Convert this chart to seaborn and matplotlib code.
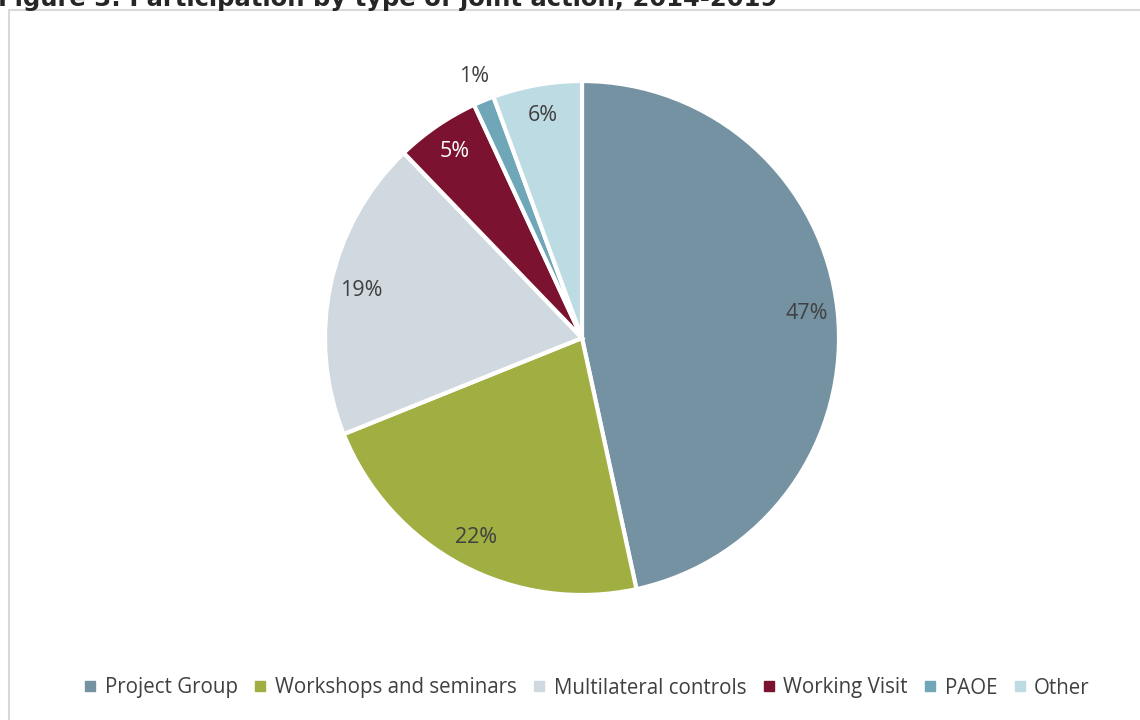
import matplotlib
matplotlib.use("Agg")
import matplotlib.pyplot as plt
import seaborn as sns
import numpy as np
from matplotlib.lines import Line2D
from matplotlib.patches import Rectangle

sns.set_theme(style="white")
plt.rcParams['font.family'] = ['Open Sans', 'DejaVu Sans']

categories = ["Project Group", "Workshops and seminars", "Multilateral controls",
              "Working Visit", "PAOE", "Other"]
values = [46.6, 22.3, 18.9, 5.3, 1.3, 5.6]
labels = ["47%", "22%", "19%", "5%", "1%", "6%"]
colors = sns.color_palette(["#7592a3", "#a0ae42", "#d0d8e0", "#7b1230", "#6fa6b8", "#bddbe3"])
label_colors = ["#404040", "#404040", "#404040", "white", "#404040", "#404040"]
title = "Figure 3: Participation by type of joint action, 2014-2019"

W, H = 1140, 720
fig = plt.figure(figsize=(W / 100, H / 100), dpi=100)

# frame
fig.patches.append(Rectangle((9 / W, -0.1), 1.2, 1 - 10 / H + 0.1, transform=fig.transFigure,
                             fill=False, edgecolor="#d9d9d9", linewidth=1.5))

cx, cy, r = 582, 338, 257
ax = fig.add_axes([(cx - r) / W, (H - cy - r) / H, 2 * r / W, 2 * r / H])
wedges, _ = ax.pie(values, colors=colors, startangle=90, counterclock=False,
                   wedgeprops=dict(edgecolor="white", linewidth=3), radius=1)
ax.set_xlim(-1, 1)
ax.set_ylim(-1, 1)
ax.set_aspect("equal")
ax.axis("off")

for w, lab, lc in zip(wedges, labels, label_colors):
    ang = np.deg2rad((w.theta1 + w.theta2) / 2)
    dist = 0.88
    if lab == "1%":
        dist = 1.1
    ax.text(dist * np.cos(ang), dist * np.sin(ang), lab, ha="center", va="center",
            fontsize=15.5, color=lc, clip_on=False)

fig.text(-0.002, 1 - 6 / H, title, ha="left", va="baseline", fontsize=17.5,
         fontweight="bold", color="#262626", family="DejaVu Sans")

handles = [Line2D([], [], marker="s", linestyle="none", markersize=7,
                  markerfacecolor=c, markeredgecolor=c) for c in colors]
fig.legend(handles, categories, loc="center", bbox_to_anchor=(587 / W, 1 - 688 / H),
           ncol=6, frameon=False, fontsize=14.8, handlelength=0.6, handletextpad=0.4,
           columnspacing=0.8, labelcolor="#404040")

fig.savefig("out.png", dpi=100)
